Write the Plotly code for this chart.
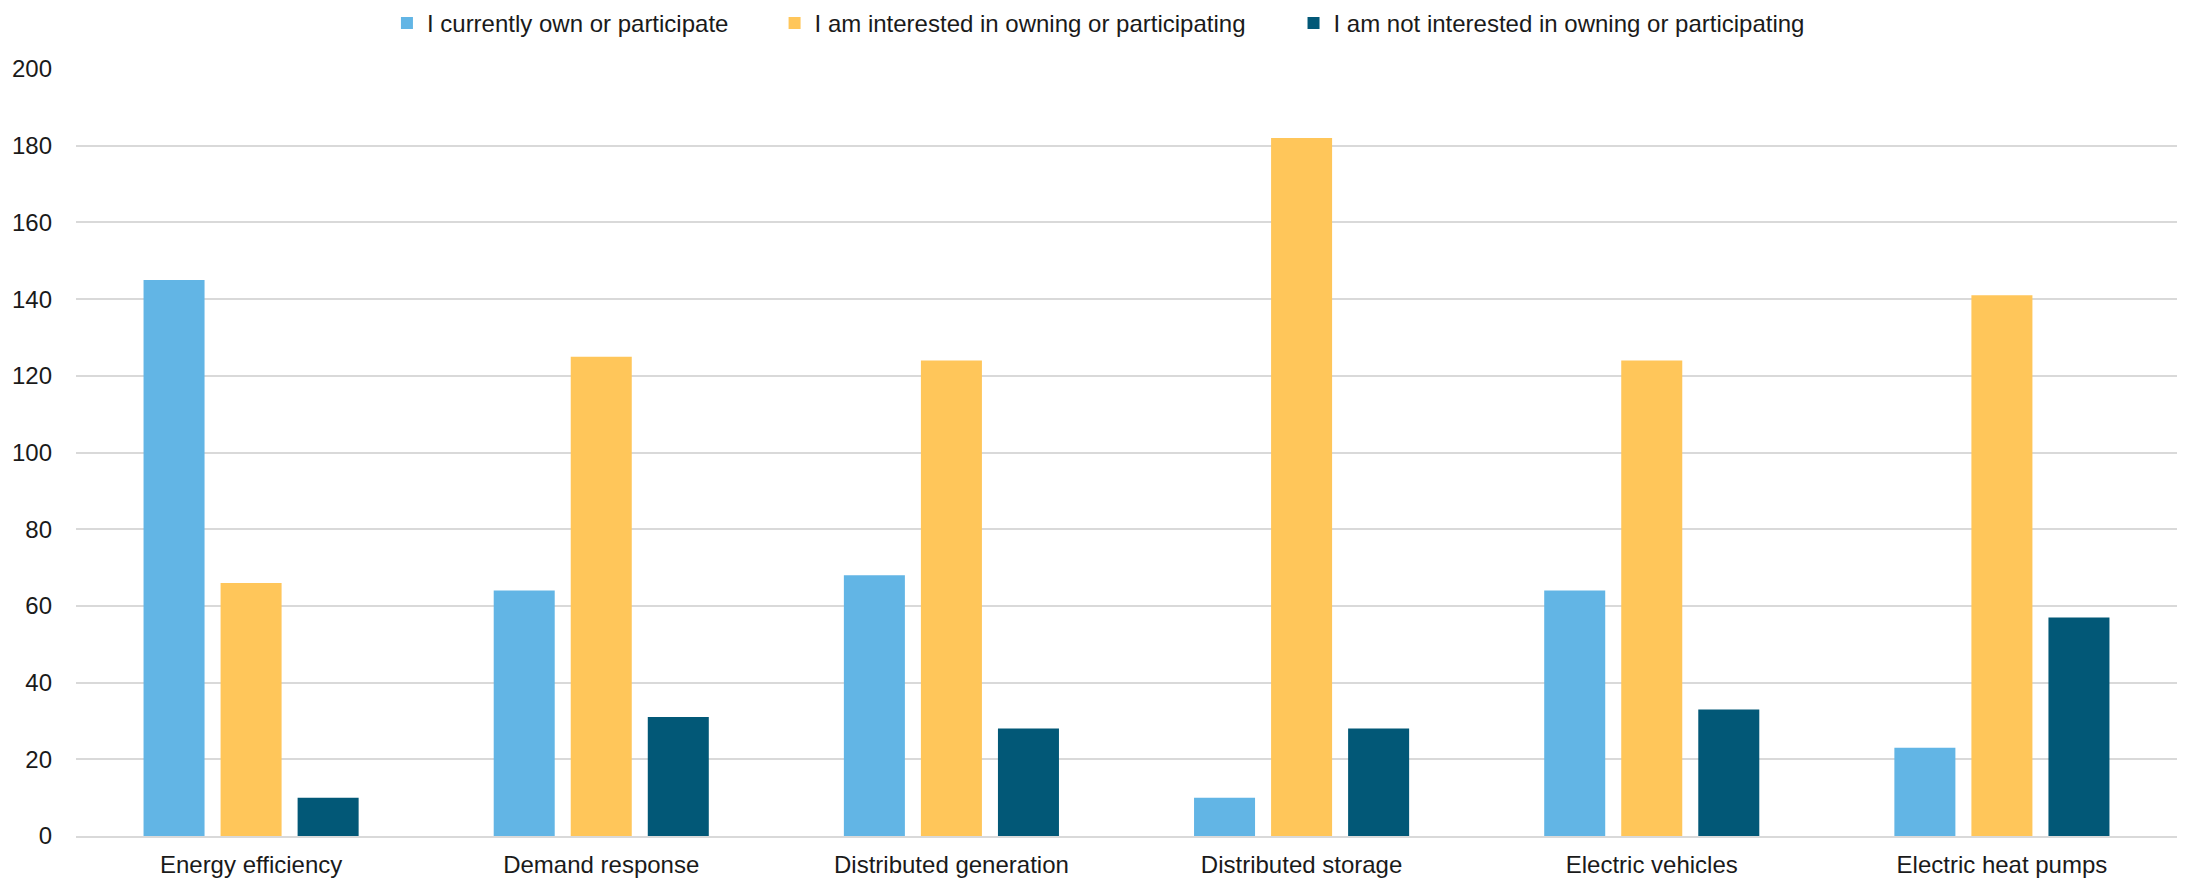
import plotly.graph_objects as go

categories = ["Energy efficiency", "Demand response", "Distributed generation",
              "Distributed storage", "Electric vehicles", "Electric heat pumps"]
own = [145, 64, 68, 10, 64, 23]
interested = [66, 125, 124, 182, 124, 141]
not_interested = [10, 31, 28, 28, 33, 57]
series_names = ["I currently own or participate",
                "I am interested in owning or participating",
                "I am not interested in owning or participating"]
colors = ["#62b5e5", "#ffc65a", "#025877"]
y_ticks = [0, 20, 40, 60, 80, 100, 120, 140, 160, 180, 200]

legend_ids = ["legend", "legend2", "legend3"]
legend_x = [0.148, 0.3325, 0.5795]

fig = go.Figure()
for name, vals, col, lid in zip(series_names, [own, interested, not_interested], colors, legend_ids):
    fig.add_trace(go.Bar(x=categories, y=vals, name=name, marker_color=col,
                         marker_line_width=0, legend=lid))

font = dict(family="Liberation Sans, Arial, sans-serif", size=24, color="#1a1a1a")
leg_common = dict(orientation="h", yanchor="middle", y=1.0595, xanchor="left",
                  font=font, itemwidth=30, bgcolor="rgba(0,0,0,0)")
fig.update_layout(
    width=2180, height=871,
    margin=dict(l=68, r=11, t=61, b=43, autoexpand=False),
    paper_bgcolor="white", plot_bgcolor="white",
    font=font,
    barmode="group", bargap=0.34, bargroupgap=0.208,
    legend=dict(x=legend_x[0], **leg_common),
    legend2=dict(x=legend_x[1], **leg_common),
    legend3=dict(x=legend_x[2], **leg_common),
    showlegend=True,
)
fig.update_yaxes(range=[0, 200], tickvals=y_ticks, showgrid=True, gridcolor="#d9d9d9",
                 gridwidth=2, zeroline=False, showline=False, ticks="",
                 ticklabelstandoff=23, tickfont=font)
fig.update_xaxes(showline=True, linecolor="#d9d9d9", linewidth=2, ticks="",
                 ticklabelstandoff=6, tickfont=font)

fig.write_html("out.html")
